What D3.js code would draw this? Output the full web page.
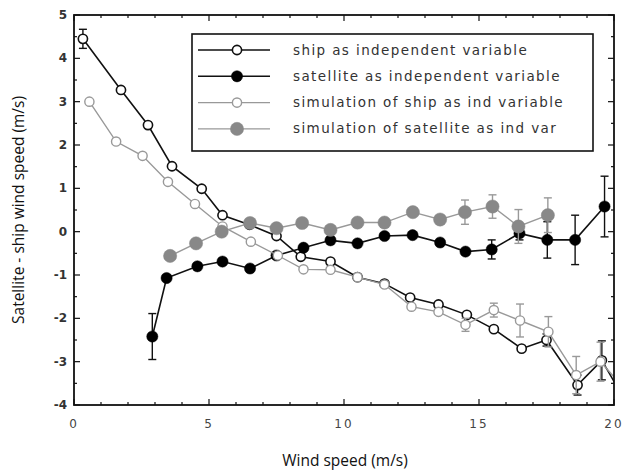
<!DOCTYPE html>
<html><head><meta charset="utf-8">
<script src="https://cdn.jsdelivr.net/npm/d3@7/dist/d3.min.js"></script>
<style>body{margin:0;background:#fff}svg{display:block}</style>
</head><body><svg id="c" width="626" height="473"></svg>
<script>
// ship as independent variable
const shipX = [0.33,1.74,2.74,3.63,4.73,5.5,6.5,7.5,8.4,9.5,10.5,11.5,12.45,13.5,14.55,15.55,16.58,17.5,18.65,19.55,20.5];
const shipY = [4.45,3.27,2.46,1.51,0.99,0.38,0.16,-0.1,-0.58,-0.69,-1.05,-1.2,-1.52,-1.68,-1.92,-2.25,-2.7,-2.5,-3.54,-2.97,-4.0];
const shipE = [0.22,0.08,0.06,0.05,0.05,0.04,0.04,0.04,0.04,0.04,0.04,0.05,0.05,0.06,0.08,0.1,0.12,0.14,0.23,0.45,0];
// satellite as independent variable
const satX = [2.9,3.43,4.57,5.5,6.52,7.5,8.5,9.5,10.5,11.5,12.54,13.56,14.5,15.47,16.5,17.53,18.56,19.65];
const satY = [-2.42,-1.07,-0.8,-0.69,-0.85,-0.55,-0.37,-0.2,-0.27,-0.1,-0.08,-0.25,-0.46,-0.41,-0.04,-0.19,-0.19,0.58];
const satE = [0.53,0.05,0.04,0.04,0.04,0.04,0.04,0.04,0.04,0.05,0.06,0.06,0.1,0.22,0.15,0.42,0.57,0.7];
// simulation of ship as ind variable
const simShipX = [0.57,1.56,2.54,3.48,4.48,5.5,6.55,7.55,8.5,9.5,10.5,11.5,12.5,13.5,14.5,15.55,16.52,17.57,18.6,19.5,20.5];
const simShipY = [3.0,2.08,1.75,1.15,0.64,0.12,-0.23,-0.55,-0.87,-0.88,-1.05,-1.22,-1.73,-1.85,-2.15,-1.81,-2.05,-2.31,-3.31,-3.0,-3.7];
const simShipE = [0.04,0.04,0.04,0.04,0.04,0.04,0.04,0.04,0.04,0.04,0.05,0.05,0.06,0.08,0.15,0.16,0.38,0.35,0.43,0.45,0];
// simulation of satellite as ind var
const simSatX = [3.56,4.52,5.47,6.52,7.5,8.45,9.5,10.5,11.5,12.55,13.56,14.48,15.5,16.46,17.55];
const simSatY = [-0.56,-0.27,0.0,0.2,0.08,0.2,0.04,0.21,0.21,0.45,0.28,0.45,0.58,0.12,0.38];
const simSatE = [0.04,0.04,0.04,0.04,0.04,0.04,0.05,0.05,0.06,0.07,0.1,0.28,0.27,0.39,0.4];

const xTicks = [0,5,10,15,20];
const yTicks = [-4,-3,-2,-1,0,1,2,3,4,5];
const legendLabels = ["ship as independent variable","satellite as independent variable","simulation of ship as ind variable","simulation of satellite as ind var"];

const svg = d3.select("#c");
const L=74,R=614,T=15,B=405;
const x = d3.scaleLinear().domain([0,20]).range([L,R]);
const y = d3.scaleLinear().domain([-4,5]).range([B,T]);

svg.append("defs").append("clipPath").attr("id","clip").append("rect")
  .attr("x",L).attr("y",T).attr("width",R-L).attr("height",B-T);

const series = [
  {xs:shipX, ys:shipY, es:shipE, line:"#111", lw:1.6, fill:"#fff", stroke:"#111", r:4.6, sw:1.6},
  {xs:satX, ys:satY, es:satE, line:"#111", lw:1.6, fill:"#000", stroke:"#000", r:5.6, sw:0.5},
  {xs:simShipX, ys:simShipY, es:simShipE, line:"#999", lw:1.4, fill:"#fff", stroke:"#999", r:4.6, sw:1.4},
  {xs:simSatX, ys:simSatY, es:simSatE, line:"#999", lw:1.4, fill:"#888", stroke:"#888", r:6.6, sw:0.5}
];

const g = svg.append("g").attr("clip-path","url(#clip)");
series.forEach(s=>{
  const pts = s.xs.map((v,i)=>({x:v,y:s.ys[i],e:s.es[i]}));
  const sg = g.append("g");
  pts.filter(p=>p.e>0.12).forEach(p=>{
    sg.append("line").attr("x1",x(p.x)).attr("x2",x(p.x)).attr("y1",y(p.y+p.e)).attr("y2",y(p.y-p.e))
      .attr("stroke",s.line).attr("stroke-width",1.4);
    [p.y+p.e,p.y-p.e].forEach(v=>sg.append("line").attr("x1",x(p.x)-4).attr("x2",x(p.x)+4)
      .attr("y1",y(v)).attr("y2",y(v)).attr("stroke",s.line).attr("stroke-width",1.4));
  });
  sg.append("path").datum(pts).attr("fill","none").attr("stroke",s.line).attr("stroke-width",s.lw)
    .attr("d",d3.line().x(d=>x(d.x)).y(d=>y(d.y)));
  sg.selectAll("circle").data(pts.filter(p=>p.x<=20)).join("circle")
    .attr("cx",d=>x(d.x)).attr("cy",d=>y(d.y)).attr("r",s.r)
    .attr("fill",s.fill).attr("stroke",s.stroke).attr("stroke-width",s.sw);
});

const ax = svg.append("g").attr("stroke","#111").attr("stroke-width",1.2);
d3.range(0,20.01,1).forEach(v=>{
  const len = v%5===0?6:3;
  ax.append("line").attr("x1",x(v)).attr("x2",x(v)).attr("y1",B).attr("y2",B-len);
  ax.append("line").attr("x1",x(v)).attr("x2",x(v)).attr("y1",T).attr("y2",T+len);
});
d3.range(-4,5.01,0.5).forEach(v=>{
  const len = Number.isInteger(v)?6:3;
  ax.append("line").attr("x1",L).attr("x2",L+len).attr("y1",y(v)).attr("y2",y(v));
  ax.append("line").attr("x1",R).attr("x2",R-len).attr("y1",y(v)).attr("y2",y(v));
});
svg.append("rect").attr("x",L).attr("y",T).attr("width",R-L).attr("height",B-T)
  .attr("fill","none").attr("stroke","#111").attr("stroke-width",1.8);

const tickFont = "'DejaVu Sans', sans-serif";
svg.append("g").selectAll("text").data(xTicks).join("text")
  .attr("x",d=>x(d)).attr("y",B+23).attr("text-anchor","middle")
  .attr("font-family",tickFont).attr("font-size",12).attr("letter-spacing",2).attr("fill","#444")
  .text(d=>d);
svg.append("g").selectAll("text").data(yTicks).join("text")
  .attr("x",L-7).attr("y",d=>y(d)+4).attr("text-anchor","end")
  .attr("font-family",tickFont).attr("font-size",12).attr("fill","#333").attr("font-weight","bold")
  .text(d=>d);

svg.append("text").attr("x",345).attr("y",466).attr("text-anchor","middle")
  .attr("font-family","'Open Sans', sans-serif").attr("font-size",15.5).attr("fill","#111")
  .text("Wind speed (m/s)");
svg.append("text").attr("transform","translate(24,210) rotate(-90)").attr("text-anchor","middle")
  .attr("font-family","'Open Sans', sans-serif").attr("font-size",15.5).attr("fill","#111")
  .text("Satellite - ship wind speed (m/s)");

const lg = svg.append("g");
lg.append("rect").attr("x",192).attr("y",34).attr("width",401).attr("height",117)
  .attr("fill","#fff").attr("stroke","#111").attr("stroke-width",1.6);
series.forEach((s,i)=>{
  const yy = 50 + i*26.3;
  lg.append("line").attr("x1",198).attr("x2",270).attr("y1",yy).attr("y2",yy)
    .attr("stroke",s.line).attr("stroke-width",s.lw);
  lg.append("circle").attr("cx",237).attr("cy",yy).attr("r",s.r).attr("fill",s.fill)
    .attr("stroke",s.stroke).attr("stroke-width",s.sw);
  lg.append("text").attr("x",293).attr("y",yy+4.5).attr("font-family",tickFont)
    .attr("font-size",13.5).attr("fill","#333").attr("letter-spacing",1.4).text(legendLabels[i]);
});
</script></body></html>
